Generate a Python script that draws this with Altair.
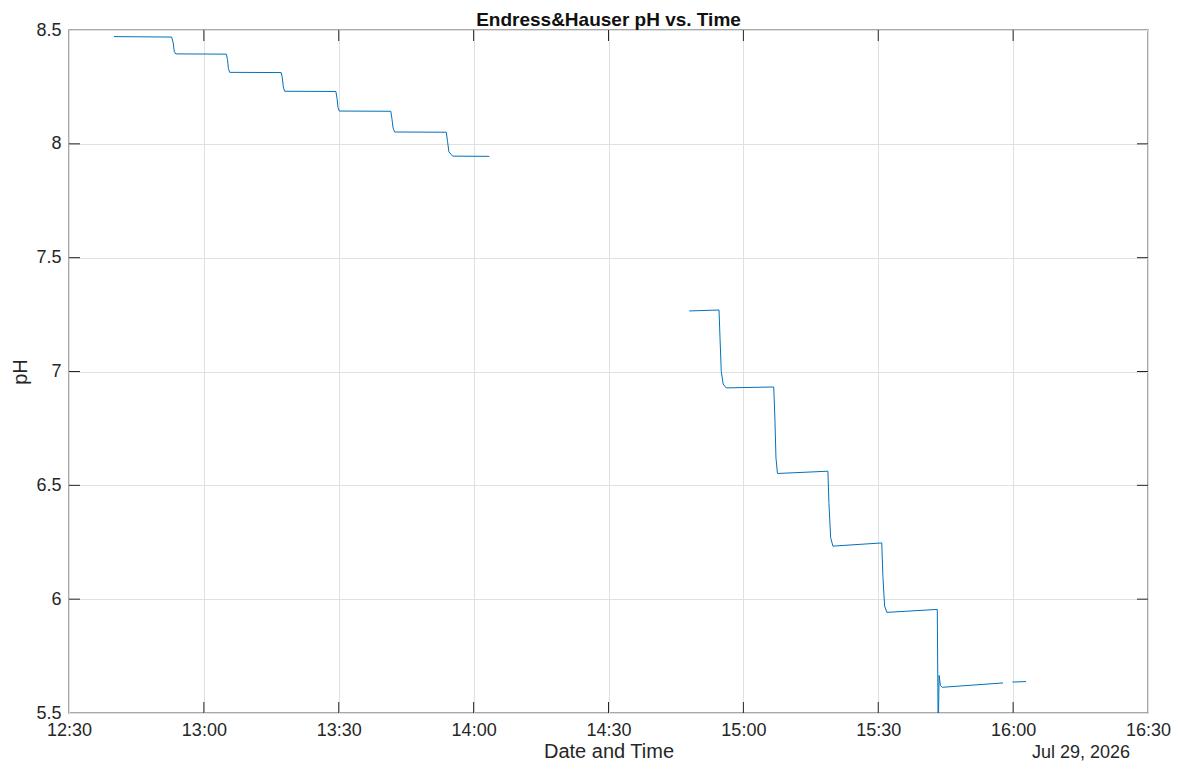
import altair as alt
import pandas as pd

DATE = "2026-07-29"

# Segment 1 (12:40 - 14:03)
seg1_time = ["12:40:00", "12:46:00", "12:52:50", "12:53:10", "12:53:25", "12:53:45",
             "13:05:00", "13:05:15", "13:05:28", "13:05:45",
             "13:17:12", "13:17:27", "13:17:40", "13:17:58",
             "13:29:22", "13:29:37", "13:29:50", "13:30:08",
             "13:41:35", "13:41:50", "13:42:05", "13:42:25",
             "13:53:55", "13:54:12", "13:54:30", "13:55:20", "14:03:30"]
seg1_ph = [8.471, 8.470, 8.469, 8.445, 8.405, 8.395,
           8.394, 8.37, 8.33, 8.314,
           8.313, 8.29, 8.25, 8.231,
           8.230, 8.20, 8.16, 8.144,
           8.143, 8.11, 8.07, 8.052,
           8.051, 8.01, 7.965, 7.946, 7.945]

# Segment 2 (14:48 - 15:58)
seg2_time = ["14:47:58", "14:54:35", "14:54:48", "14:55:05", "14:55:30", "14:56:10",
             "15:06:45", "15:07:00", "15:07:15", "15:07:35",
             "15:18:48", "15:19:02", "15:19:25", "15:19:55",
             "15:30:47", "15:31:02", "15:31:25", "15:31:55",
             "15:43:08", "15:43:20", "15:43:32", "15:43:50", "15:44:15", "15:57:45"]
seg2_ph = [7.266, 7.270, 7.15, 7.00, 6.945, 6.928,
           6.932, 6.80, 6.62, 6.552,
           6.562, 6.42, 6.27, 6.233,
           6.247, 6.10, 5.97, 5.942,
           5.955, 5.40, 5.665, 5.62, 5.613, 5.632]

# Segment 3 (16:00 - 16:03)
seg3_time = ["15:59:50", "16:02:53"]
seg3_ph = [5.636, 5.638]

x_tick_labels = ["12:30", "13:00", "13:30", "14:00", "14:30", "15:00", "15:30", "16:00", "16:30"]
y_ticks = [5.5, 6.0, 6.5, 7.0, 7.5, 8.0, 8.5]
date_label = ["Jul 29, 2026"]
chart_title = "Endress&Hauser pH vs. Time"

FONT = "Liberation Sans"
LINE_COLOR = "#0072BD"
TEXT_COLOR = "#262626"


def dt(hm):
    h, m = hm.split(":")
    return alt.DateTime(year=2026, month=7, date=29, hours=int(h), minutes=int(m))


rows = []
for name, ts, vs in [("A", seg1_time, seg1_ph), ("B", seg2_time, seg2_ph), ("C", seg3_time, seg3_ph)]:
    for t, v in zip(ts, vs):
        rows.append({"time": f"{DATE}T{t}", "pH": v, "segment": name})
df = pd.DataFrame(rows)

xticks_df = pd.DataFrame({"time": [f"{DATE}T{t}:00" for t in x_tick_labels[1:-1]]})
yticks_df = pd.DataFrame({"pH": y_ticks[1:-1]})
label_df = pd.DataFrame({"label": date_label})

W, H = 1079, 683
TICK = 11
TITLE_Y = 44.5

x_scale = alt.Scale(domain=[dt(x_tick_labels[0]), dt(x_tick_labels[-1])], nice=False)
y_scale = alt.Scale(domain=[y_ticks[0], y_ticks[-1]], nice=False, zero=False)

x_axis = alt.Axis(values=[dt(t) for t in x_tick_labels], format="%H:%M",
                  title="Date and Time", titleY=TITLE_Y, titleBaseline="alphabetic",
                  labelFlush=False)
y_axis = alt.Axis(values=y_ticks, format=".1~f", title="pH",
                  titleX=-49, titleBaseline="middle", labelFlush=False)

line = alt.Chart(df).mark_line(color=LINE_COLOR, strokeWidth=1, clip=True).encode(
    x=alt.X("time:T", scale=x_scale, axis=x_axis),
    y=alt.Y("pH:Q", scale=y_scale, axis=y_axis),
    detail="segment:N",
)

tick_bottom = alt.Chart(xticks_df).mark_rule(color=TEXT_COLOR, strokeWidth=1).encode(
    x=alt.X("time:T", scale=x_scale, axis=x_axis),
    y=alt.value(H), y2=alt.value(H - TICK))
tick_top = alt.Chart(xticks_df).mark_rule(color=TEXT_COLOR, strokeWidth=1).encode(
    x=alt.X("time:T", scale=x_scale, axis=x_axis),
    y=alt.value(0), y2=alt.value(TICK))
tick_left = alt.Chart(yticks_df).mark_rule(color=TEXT_COLOR, strokeWidth=1).encode(
    y=alt.Y("pH:Q", scale=y_scale, axis=y_axis),
    x=alt.value(0), x2=alt.value(TICK))
tick_right = alt.Chart(yticks_df).mark_rule(color=TEXT_COLOR, strokeWidth=1).encode(
    y=alt.Y("pH:Q", scale=y_scale, axis=y_axis),
    x=alt.value(W), x2=alt.value(W - TICK))

date_text = alt.Chart(label_df).mark_text(
    align="right", baseline="alphabetic", fontSize=18, font=FONT, color=TEXT_COLOR
).encode(text="label:N", x=alt.value(W - 18), y=alt.value(H + TITLE_Y))

title_df = pd.DataFrame({"label": [chart_title]})
title_text = alt.Chart(title_df).mark_text(
    align="center", baseline="alphabetic", fontSize=19, fontWeight="bold", font=FONT,
    color="#111111"
).encode(text="label:N", x=alt.value(W / 2), y=alt.value(-4))

chart = alt.layer(line, tick_bottom, tick_top, tick_left, tick_right, date_text,
                  title_text).properties(
    width=W, height=H,
    autosize=alt.AutoSizeParams(type="none"),
    padding={"left": 61, "top": 22, "right": 25, "bottom": 49},
).configure_view(
    stroke="#8c8c8c", strokeWidth=1.5
).configure_axis(
    labelFont=FONT, titleFont=FONT, labelFontSize=18, titleFontSize=20,
    labelColor=TEXT_COLOR, titleColor=TEXT_COLOR, titleFontWeight="normal",
    grid=True, gridColor="#e0e0e0", gridWidth=1, domain=False,
    ticks=False, tickSize=0,
).configure_axisX(labelPadding=8).configure_axisY(labelPadding=8)

chart.save("out.html", embed_options={"renderer": "svg", "actions": False})
